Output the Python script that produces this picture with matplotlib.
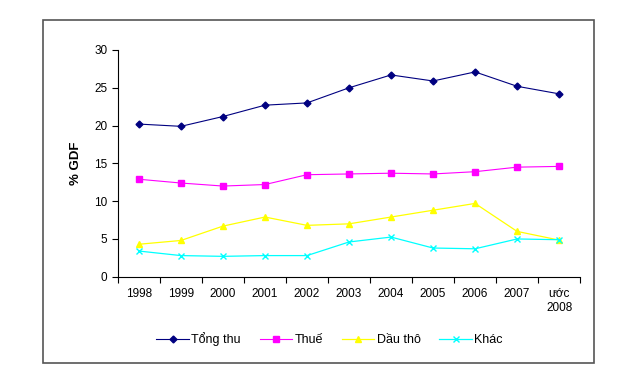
import matplotlib.pyplot as plt
from matplotlib.patches import Rectangle

plt.rcParams['font.family'] = ['Liberation Sans', 'DejaVu Sans']

# categories and series (% GDP)
years = ['1998', '1999', '2000', '2001', '2002', '2003', '2004',
         '2005', '2006', '2007', 'ước\n2008']
tong_thu = [20.2, 19.9, 21.2, 22.7, 23.0, 25.0, 26.7, 25.9, 27.1, 25.2, 24.2]
thue = [12.9, 12.4, 12.0, 12.2, 13.5, 13.6, 13.7, 13.6, 13.9, 14.5, 14.6]
dau_tho = [4.3, 4.8, 6.7, 7.9, 6.8, 7.0, 7.9, 8.8, 9.7, 6.0, 4.85]
khac = [3.4, 2.8, 2.7, 2.8, 2.8, 4.6, 5.25, 3.8, 3.7, 5.0, 4.9]

fig = plt.figure(figsize=(6.34, 3.69), dpi=100)
ax = fig.add_axes([0.186, 0.25, 0.729, 0.6145])

x = list(range(len(years)))
ax.plot(x, tong_thu, color='#000080', lw=0.8, marker='D', ms=3.5, label='Tổng thu')
ax.plot(x, thue, color='#FF00FF', lw=0.8, marker='s', ms=4.5, label='Thuế')
ax.plot(x, dau_tho, color='#FFFF00', lw=0.9, marker='^', ms=4.5, label='Dầu thô')
ax.plot(x, khac, color='#00FFFF', lw=0.9, marker='x', ms=4.5, mew=1, label='Khác')

ax.set_xlim(-0.5, len(years) - 0.5)
ax.set_ylim(0, 30)
ax.set_yticks(range(0, 31, 5))
ax.set_xticks(x)
ax.set_xticklabels(years, fontsize=8.5)
ax.set_xticks([i - 0.5 for i in range(len(years) + 1)], minor=True)
ax.tick_params(axis='x', which='major', length=0, pad=8)
ax.tick_params(axis='x', which='minor', length=4, width=0.8)
ax.tick_params(axis='y', labelsize=8.5, length=4, width=0.8)
ax.set_ylabel('% GDF', fontsize=9.5, fontweight='bold', labelpad=9)

for s in ['top', 'right']:
    ax.spines[s].set_visible(False)
for s in ['left', 'bottom']:
    ax.spines[s].set_linewidth(0.8)

fig.legend(loc='center', bbox_to_anchor=(0.52, 0.08), ncol=4, frameon=False,
           fontsize=9, handlelength=2.6, columnspacing=1.5, handletextpad=0.2)

# outer chart frame
fig.patches.append(Rectangle((43 / 634, 1 - 363 / 369), 551 / 634, 343 / 369,
                             transform=fig.transFigure, fill=False,
                             edgecolor='#555555', lw=1.2))

fig.savefig('out.png', dpi=100)
